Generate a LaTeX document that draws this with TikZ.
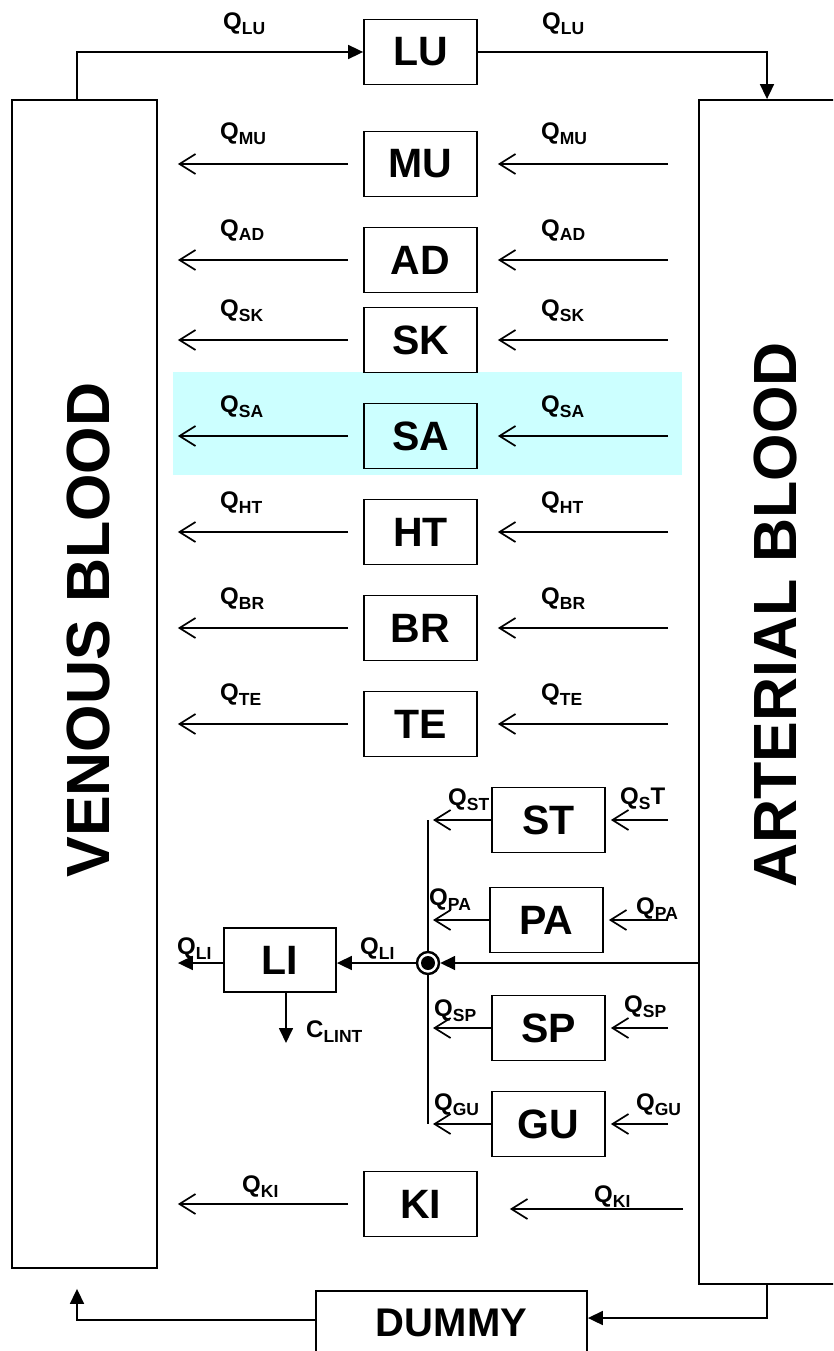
\documentclass[tikz,border=0pt]{standalone}
\usepackage{fontspec}
\setmainfont{Liberation Sans}
\usetikzlibrary{arrows.meta}
\definecolor{band}{HTML}{CCFFFF}
\newcommand{\Qs}[1]{{\fontsize{24}{24}\selectfont Q}\raisebox{-5pt}{\fontsize{17.5}{17.5}\selectfont #1}}
\newcommand{\Cs}[1]{{\fontsize{24}{24}\selectfont C}\raisebox{-5pt}{\fontsize{17.5}{17.5}\selectfont #1}}
\begin{document}
\begin{tikzpicture}[x=1pt,y=-1pt,
 organ/.style={draw, line width=1.8pt, minimum width=113pt, minimum height=65pt, inner sep=0pt, font=\fontsize{41}{41}\selectfont\bfseries},
 pool/.style={draw, line width=1.8pt, inner sep=0pt},
 open/.style={line width=1.7pt, -{Straight Barb[length=16pt,width=20pt]}},
 tri/.style={line width=1.7pt, -{Triangle[length=15pt,width=14pt]}},
 lab/.style={anchor=base west, inner sep=0pt, font=\bfseries},
 big/.style={rotate=90, inner sep=0pt, font=\fontsize{61}{61}\selectfont\bfseries}]
\useasboundingbox (0,0) rectangle (833,1351);
\clip (0,0) rectangle (833,1351);
\fill[band] (173,372) rectangle (682,475);
% pools
\node[pool, minimum width=145pt, minimum height=1168pt] (venous) at (84.5,684) {};
\node[pool, minimum width=146pt, minimum height=1184pt] (arterial) at (772,692) {};
\node[big] (vtext) at (88,630) {VENOUS BLOOD};
\node[big] (atext) at (775,615) {ARTERIAL BLOOD};
% lung
\node[organ] (LU) at (420.5,52) {LU};
\coordinate (vt) at (77,52);
\coordinate (at) at (767,52);
\draw[tri] (venous.north -| vt) |- (LU.west);
\draw[tri] (LU.east) -| (arterial.north -| at);
\node[lab] at (223,30) {\Qs{LU}};
\node[lab] at (542,30) {\Qs{LU}};
% parallel organs
\node[organ] (MU) at (420.5,164) {MU};
\node[organ] (AD) at (420.5,260) {AD};
\node[organ] (SK) at (420.5,340) {SK};
\node[organ] (SA) at (420.5,436) {SA};
\node[organ] (HT) at (420.5,532) {HT};
\node[organ] (BR) at (420.5,628) {BR};
\node[organ] (TE) at (420.5,724) {TE};
\foreach \o in {MU,AD,SK,SA,HT,BR,TE}{
  \draw[open, shorten <=15pt, shorten >=20pt] (\o.west) -- (venous.east |- \o.west);
  \draw[open, shorten <=30pt, shorten >=20pt] (arterial.west |- \o.east) -- (\o.east);
}
\foreach \o/\y in {MU/140,AD/236,SK/316,SA/412,HT/508,BR/604,TE/700}{
  \node[lab] at (220,\y) {\Qs{\o}};
  \node[lab] at (541,\y) {\Qs{\o}};
}
% kidney
\node[organ] (KI) at (420.5,1204) {KI};
\coordinate (kir) at (683,1209);
\draw[open, shorten <=15pt, shorten >=20pt] (KI.west) -- (venous.east |- KI.west);
\draw[open, shorten >=32pt] (kir) -- (KI.east |- kir);
\node[lab] at (242,1192) {\Qs{KI}};
\node[lab] at (594,1202) {\Qs{KI}};
% splanchnic group
\node[organ] (ST) at (548.5,820) {ST};
\node[organ] (PA) at (546.5,920) {PA};
\node[organ] (SP) at (548.5,1028) {SP};
\node[organ] (GU) at (548.5,1124) {GU};
\coordinate (mixc) at (428,963);
\draw[line width=1.7pt] (mixc |- ST.west) -- (mixc |- GU.west);
\foreach \o in {ST,PA,SP,GU}{
  \draw[open, shorten >=5pt] (\o.west) -- (mixc |- \o.west);
  \draw[open, shorten <=30pt, shorten >=5pt] (arterial.west |- \o.east) -- (\o.east);
}
\node[draw, circle, line width=2.4pt, fill=white, minimum size=22pt, inner sep=0pt] (mix) at (mixc) {};
\fill (mixc) circle (7pt);
\node[organ, minimum width=112pt, minimum height=64pt] (LI) at (280,960) {LI};
\draw[tri] (arterial.west |- mix) -- (mix.east);
\draw[tri] (mix.west) -- (LI.east |- mix);
\draw[tri, shorten >=20pt] (LI.west |- mix) -- (venous.east |- mix);
\coordinate (clint) at (286,1043);
\draw[tri] (LI.south -| clint) -- (clint);
\node[lab] at (448,805) {\Qs{ST}};
\node[lab] at (620,804) {{\fontsize{24}{24}\selectfont Q}\raisebox{-5pt}{\fontsize{17.5}{17.5}\selectfont S}{\fontsize{24}{24}\selectfont T}};
\node[lab] at (429,905) {\Qs{PA}};
\node[lab] at (636,914) {\Qs{PA}};
\node[lab] at (434,1016) {\Qs{SP}};
\node[lab] at (624,1012) {\Qs{SP}};
\node[lab] at (434,1110) {\Qs{GU}};
\node[lab] at (636,1110) {\Qs{GU}};
\node[lab] at (177,954) {\Qs{LI}};
\node[lab] at (360,954) {\Qs{LI}};
\node[lab] at (306,1037) {\Cs{LINT}};
% dummy
\node[organ, minimum width=271pt, minimum height=64pt, font=\fontsize{40}{40}\selectfont\bfseries] (DUMMY) at (451.5,1323) {DUMMY};
\coordinate (dr) at (767,1318);
\coordinate (dl) at (77,1320);
\draw[tri] (arterial.south -| dr) |- (DUMMY.east |- dr);
\draw[tri, shorten >=20pt] (DUMMY.west |- dl) -| (venous.south -| dl);
\end{tikzpicture}
\end{document}
